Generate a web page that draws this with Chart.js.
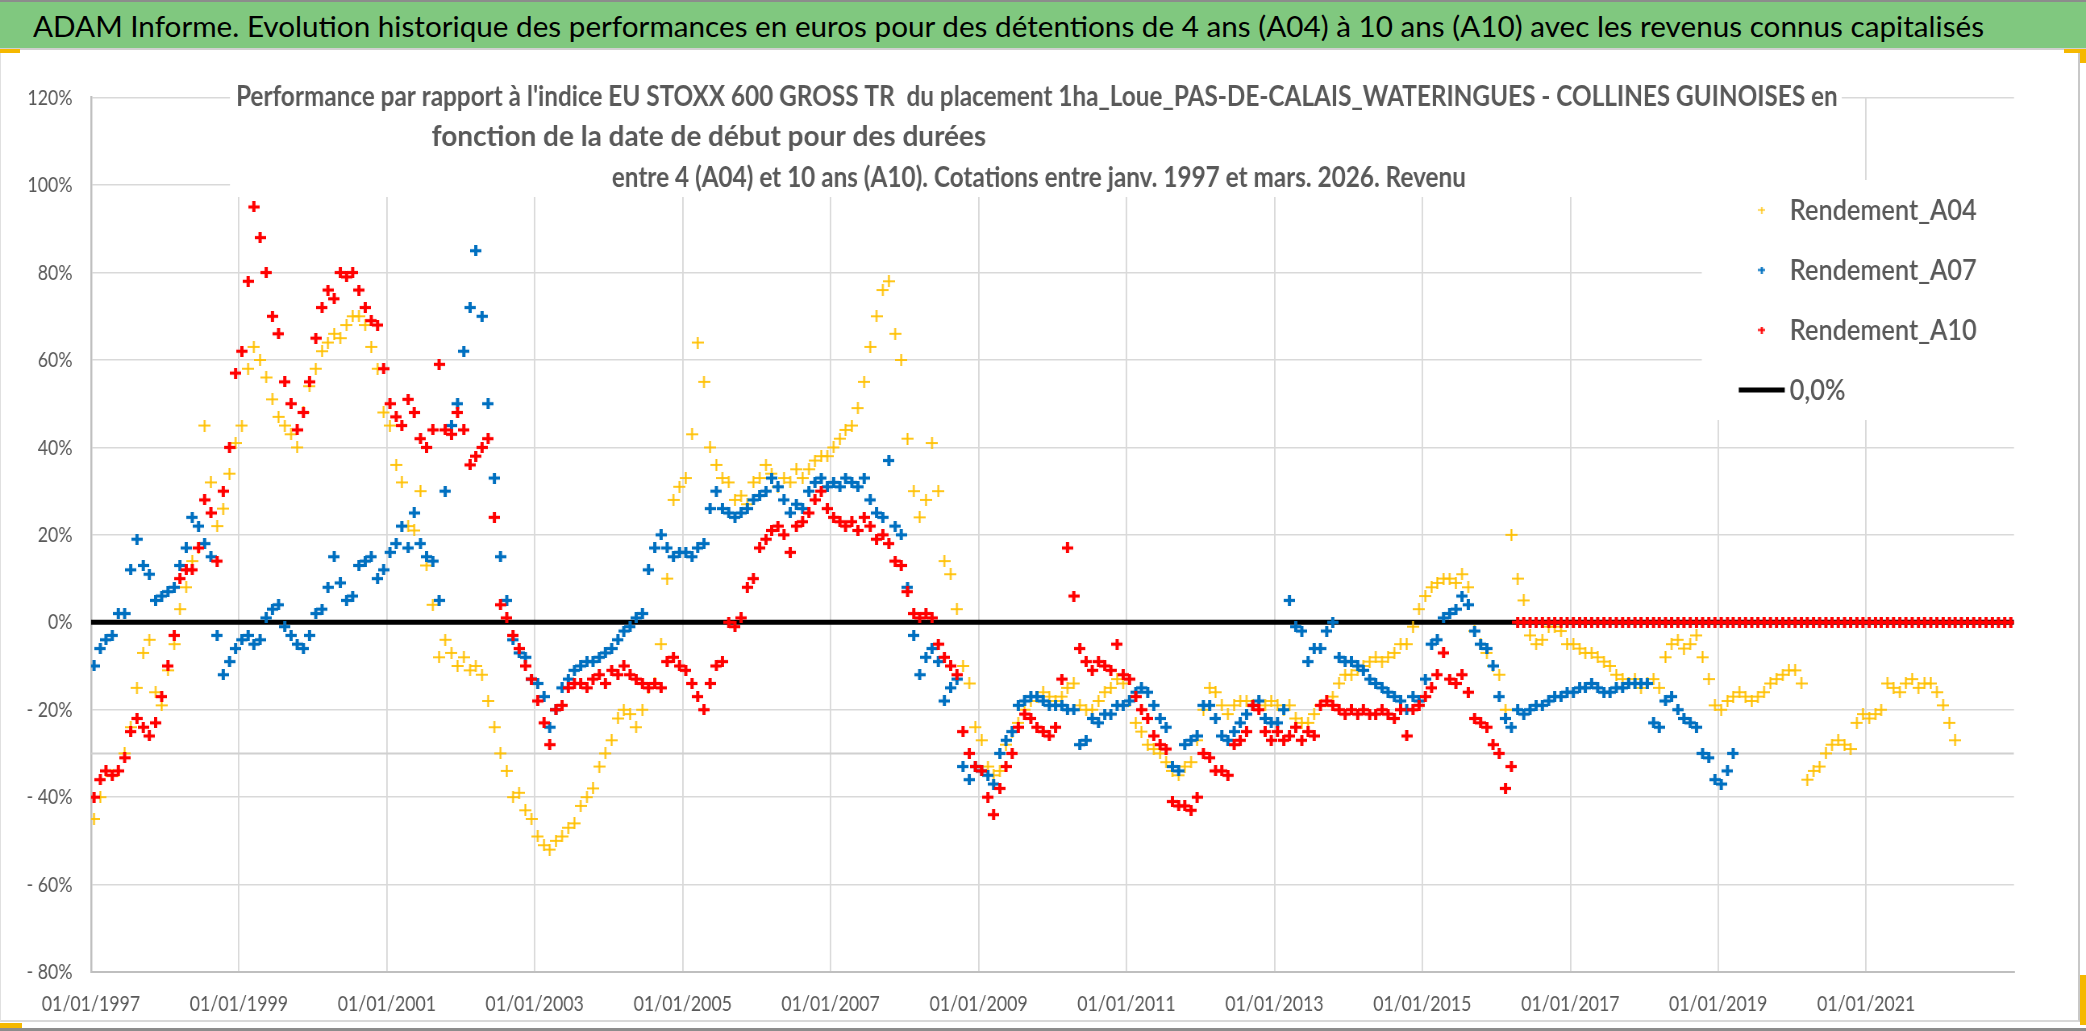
<!DOCTYPE html>
<html lang="fr">
<head>
<meta charset="utf-8">
<title>ADAM Informe - Rendements A04 A07 A10</title>
<script src="https://cdn.jsdelivr.net/npm/chart.js@4.4.1/dist/chart.umd.min.js"></script>
<style>
  html, body { margin: 0; padding: 0; background: #fff; overflow: hidden; }
  body { width: 2086px; height: 1031px; position: relative; font-family: Lato, 'Noto Sans', sans-serif; }
  #bandeau { position: absolute; left: 0; top: 0; width: 2086px; height: 50px; background: #80C87F;
             border-top: 2px solid #8c8c8c; border-bottom: 2px solid #d0d0d0; box-sizing: border-box; overflow: hidden; }
  #bandeau span { position: absolute; left: 33px; top: 7px; font-size: 28px; line-height: 34px; white-space: nowrap;
                  color: #000; transform-origin: 0 0; }
  #cadre { position: absolute; left: 0; top: 50px; width: 2080px; height: 972px; border-right: 2px solid #c8c8c8;
           border-bottom: 2px solid #d8d8d8; border-left: 1px solid #e0e0e0; box-sizing: border-box; }
  #basPage { position: absolute; left: 0; top: 1028px; width: 2086px; height: 3px; background: #8c8c8c; }
  .poignee { position: absolute; background: #F5B800; }
  #graphique { position: absolute; left: 0; top: 50px; }
</style>
</head>
<body>
<div id="bandeau"><span id="titreBandeau">ADAM Informe. Evolution historique des performances en euros pour des détentions de 4 ans (A04) à 10 ans (A10) avec les revenus connus capitalisés</span></div>
<div id="cadre"></div>
<div id="basPage"></div>
<div class="poignee" style="left:0;top:49px;width:20px;height:4px"></div>
<div class="poignee" style="left:2064px;top:49px;width:22px;height:4px"></div>
<div class="poignee" style="left:2080px;top:49px;width:6px;height:14px"></div>
<div class="poignee" style="left:2080px;top:975px;width:6px;height:50px"></div>
<div class="poignee" style="left:0;top:1023px;width:22px;height:5px"></div>
<canvas id="graphique" width="2587" height="972" style="width:2086px;height:972px"></canvas>
<script>
// compression horizontale du canevas pour imiter une police étroite (type Calibri)
const K = 1.24;

// axe des dates : une valeur par mois à partir de janvier 1997
const anneeDebut = 1997;
const anneesAxeX = [1997, 1999, 2001, 2003, 2005, 2007, 2009, 2011, 2013, 2015, 2017, 2019, 2021];
const graduationsY = [-80, -60, -40, -20, 0, 20, 40, 60, 80, 100, 120];

// Rendement en % (lecture du graphique, un point par mois)
const rendementA04 = [
  -45, -40, -34, -35, -34, -30, -24, -15, -7, -4, -16, -19,   // 1997
  -11, -5, 3, 8, 14, 17, 45, 32, 22, 26, 34, 41,              // 1998
  45, 58, 63, 60, 56, 51, 47, 45, 43, 40, 48, 54,             // 1999
  58, 62, 64, 66, 65, 68, 70, 70, 68, 63, 58, 48,             // 2000
  45, 36, 32, 22, 21, 30, 13, 4, -8, -4, -7, -10,             // 2001
  -8, -11, -10, -12, -18, -24, -30, -34, -40, -39, -43, -45,  // 2002
  -49, -51, -52, -50, -49, -47, -46, -42, -40, -38, -33, -30, // 2003
  -27, -22, -20, -21, -24, -20, -15, -14, -5, 10, 28, 31,     // 2004
  33, 43, 64, 55, 40, 36, 33, 32, 28, 29, 27, 32,             // 2005
  33, 36, 34, 31, 33, 32, 35, 33, 35, 37, 38, 38,             // 2006
  40, 42, 44, 45, 49, 55, 63, 70, 76, 78, 66, 60,             // 2007
  42, 30, 24, 28, 41, 30, 14, 11, 3, -10, -14, -24,           // 2008
  -27, -33, -35, -34, -28, -25, -23, -20, -18, -17, -16, -17, // 2009
  -18, -17, -15, -14, -19, -20, -20, -18, -16, -15, -13, -14, // 2010
  -18, -23, -25, -28, -29, -30, -32, -34, -35, -33, -32, -27, // 2011
  -20, -15, -16, -19, -21, -19, -18, -18, -19, -18, -19, -18, // 2012
  -19, -20, -19, -22, -23, -23, -21, -19, -18, -17, -14, -12, // 2013
  -12, -11, -10, -9, -8, -9, -8, -7, -5, -5, -1, 3,           // 2014
  6, 8, 9, 10, 10, 9, 11, 8, -2, -5, -7, -10,                 // 2015
  -12, -20, 20, 10, 5, -3, -5, -4, -1, -1, -2, -5,            // 2016
  -5, -6, -7, -7, -8, -9, -10, -12, -13, -14, -13, -15,       // 2017
  -14, -13, -15, -8, -5, -4, -6, -5, -3, -8, -13, -19,        // 2018
  -20, -18, -17, -16, -17, -18, -17, -16, -14, -13, -12, -11, // 2019
  -11, -14, -36, -34, -33, -30, -28, -27, -28, -29, -23, -21, // 2020
  -22, -21, -20, -14, -15, -16, -14, -13, -15, -14, -14, -16, // 2021
  -19, -23, -27                                               // 2022
];

const rendementA07 = [
  -10, -6, -4, -3, 2, 2, 12, 19, 13, 11, 5, 6,                // 1997
  7, 8, 13, 17, 24, 22, 18, 15, -3, -12, -9, -6,              // 1998
  -4, -3, -5, -4, 1, 3, 4, -1, -3, -5, -6, -3,                // 1999
  2, 3, 8, 15, 9, 5, 6, 13, 14, 15, 10, 12,                   // 2000
  16, 18, 22, 17, 25, 18, 15, 14, 5, 30, 45, 50,              // 2001
  62, 72, 85, 70, 50, 33, 15, 5, -4, -7, -8, -13,             // 2002
  -14, -17, -24, -20, -15, -13, -11, -10, -9, -9, -8, -7,     // 2003
  -6, -4, -2, -1, 1, 2, 12, 17, 20, 17, 15, 16,               // 2004
  16, 15, 17, 18, 26, 30, 26, 25, 24, 25, 26, 28,             // 2005
  29, 30, 33, 31, 28, 25, 27, 26, 30, 32, 33, 31,             // 2006
  32, 31, 33, 32, 31, 33, 28, 25, 24, 37, 22, 20,             // 2007
  8, -3, -12, -8, -6, -9, -18, -15, -13, -33, -36, -33,       // 2008
  -34, -35, -37, -30, -27, -25, -19, -18, -17, -17, -18, -19, // 2009
  -19, -19, -20, -20, -28, -27, -22, -23, -21, -21, -19, -19, // 2010
  -18, -16, -15, -16, -19, -22, -24, -33, -34, -28, -27, -26, // 2011
  -19, -19, -22, -26, -27, -25, -23, -21, -19, -18, -22, -23, // 2012
  -23, -20, 5, -1, -2, -9, -6, -6, -2, 0, -8, -9,             // 2013
  -9, -10, -11, -13, -14, -15, -16, -17, -18, -20, -17, -18,  // 2014
  -13, -5, -4, 1, 2, 3, 6, 4, -2, -5, -6, -10,                // 2015
  -17, -22, -24, -20, -21, -20, -19, -19, -18, -17, -17, -16, // 2016
  -16, -15, -15, -14, -15, -16, -16, -15, -15, -14, -14, -14, // 2017
  -14, -23, -24, -18, -17, -20, -22, -23, -24, -30, -31, -36, // 2018
  -37, -34, -30                                               // 2019
];

const rendementA10 = [
  -40, -36, -34, -35, -34, -31, -25, -22, -24, -26, -23, -17, // 1997
  -10, -3, 10, 12, 12, 17, 28, 25, 14, 30, 40, 57,            // 1998
  62, 78, 95, 88, 80, 70, 66, 55, 50, 44, 48, 55,             // 1999
  65, 72, 76, 74, 80, 79, 80, 76, 72, 69, 68, 58,             // 2000
  50, 47, 45, 51, 48, 42, 40, 44, 59, 44, 43, 48,             // 2001
  44, 36, 38, 40, 42, 24, 4, 1, -3, -6, -10, -13,             // 2002
  -18, -23, -28, -20, -19, -15, -14, -14, -15, -13, -12, -14, // 2003
  -11, -12, -10, -12, -13, -14, -15, -14, -15, -9, -8, -10,   // 2004
  -11, -14, -17, -20, -14, -10, -9, 0, -1, 1, 8, 10,          // 2005
  17, 19, 21, 22, 20, 16, 22, 23, 25, 28, 30, 26,             // 2006
  24, 23, 22, 23, 21, 24, 22, 19, 20, 18, 14, 13,             // 2007
  7, 2, 1, 2, 1, -5, -8, -10, -12, -25, -30, -33,             // 2008
  -34, -40, -44, -38, -33, -30, -24, -21, -22, -24, -25, -26, // 2009
  -24, -13, 17, 6, -6, -9, -11, -9, -10, -11, -5, -12,        // 2010
  -13, -17, -20, -22, -26, -28, -29, -41, -42, -42, -43, -40, // 2011
  -30, -31, -34, -34, -35, -28, -27, -25, -19, -20, -25, -27, // 2012
  -25, -27, -26, -24, -27, -25, -26, -19, -18, -19, -20, -21, // 2013
  -20, -21, -20, -21, -21, -20, -21, -22, -20, -26, -20, -19, // 2014
  -17, -15, -12, -7, -13, -14, -12, -16, -22, -23, -24, -28,  // 2015
  -30, -38, -33, 0, 0, 0, 0, 0, 0, 0, 0, 0,                   // 2016
  0, 0, 0, 0, 0, 0, 0, 0, 0, 0, 0, 0,                         // 2017
  0, 0, 0, 0, 0, 0, 0, 0, 0, 0, 0, 0,                         // 2018
  0, 0, 0, 0, 0, 0, 0, 0, 0, 0, 0, 0,                         // 2019
  0, 0, 0, 0, 0, 0, 0, 0, 0, 0, 0, 0,                         // 2020
  0, 0, 0, 0, 0, 0, 0, 0, 0, 0, 0, 0,                         // 2021
  0, 0, 0, 0, 0, 0, 0, 0, 0, 0, 0, 0                          // 2022
];

// lignes horizontales (0,0 % et repère gris à -30 %)
const ligneZero = [0, 0];
const ligneGrise = [-30, -30];
const bornesDates = [Date.UTC(1997, 0, 1), Date.UTC(2023, 0, 1)];

const titreGraphique = [
  "Performance par rapport à l'indice EU STOXX 600 GROSS TR  du placement 1ha_Loue_PAS-DE-CALAIS_WATERINGUES - COLLINES GUINOISES en",
  "fonction de la date de début pour des durées",
  "entre 4 (A04) et 10 ans (A10). Cotations entre janv. 1997 et mars. 2026. Revenu"
];

function mensuel(valeurs) {
  return valeurs.map((v, i) => ({ x: Date.UTC(anneeDebut, i, 16), y: v }));
}
function horizontale(valeurs) {
  return valeurs.map((v, i) => ({ x: bornesDates[i], y: v }));
}

// croix dessinée dans un petit canevas, élargie de K pour rester carrée à l'écran
function croix(couleur, taille, epaisseur) {
  const c = document.createElement('canvas');
  c.width = Math.round(taille * K);
  c.height = taille;
  const g = c.getContext('2d');
  g.fillStyle = couleur;
  g.fillRect(0, (taille - epaisseur) / 2, c.width, epaisseur);
  g.fillRect((c.width - epaisseur * K) / 2, 0, epaisseur * K, taille);
  return c;
}

// texte centré sur cx, étiré horizontalement d'un facteur donné
function texteCentre(ctx, txt, cx, y, facteur) {
  ctx.save();
  ctx.translate(cx * K, y);
  ctx.scale(facteur, 1);
  ctx.textAlign = 'center';
  ctx.textBaseline = 'alphabetic';
  ctx.fillText(txt, 0, 0);
  ctx.restore();
}

function texteAjuste(ctx, txt, x, y, largeur) {
  const w = ctx.measureText(txt).width;
  ctx.save();
  ctx.translate(x * K, y);
  ctx.scale(largeur * K / w, 1);
  ctx.textAlign = 'left';
  ctx.textBaseline = 'alphabetic';
  ctx.fillText(txt, 0, 0);
  ctx.restore();
}

// titre et légende posés sur la zone de tracé, comme dans Excel
const habillage = {
  id: 'habillage',
  beforeDatasetsDraw(chart) {
    const ctx = chart.ctx;
    ctx.save();
    ctx.fillStyle = '#ffffff';
    ctx.fillRect(230 * K, 22, (1842 - 230) * K, 125);
    ctx.fillRect(1702 * K, 130, (2030 - 1702) * K, 240);

    ctx.fillStyle = '#595959';
    ctx.font = 'bold 28px Lato';
    const f = 1602 * K / ctx.measureText(titreGraphique[0]).width;
    texteCentre(ctx, titreGraphique[0], 1037, 56, f);
    texteCentre(ctx, titreGraphique[1], 709, 96, f * 1.15);
    texteCentre(ctx, titreGraphique[2], 1039, 137, f);

    ctx.font = '600 28px Lato';
    const ref = ctx.measureText('Rendement_A04').width;
    const echelle = 187 / ref;
    let y = 160;
    chart.data.datasets.filter(d => d.legende).forEach(d => {
      if (d.showLine) {
        ctx.fillStyle = d.borderColor;
        ctx.fillRect(1739 * K, y - 2.5, 46 * K, 5);
      } else {
        const m = d.marqueLegende;
        ctx.drawImage(m, 1762 * K - m.width / 2, y - m.height / 2);
      }
      ctx.fillStyle = '#595959';
      const w = ctx.measureText(d.label).width;
      texteAjuste(ctx, d.label, 1790, y + 10, w * echelle);
      y += 60;
    });
    ctx.restore();
  }
};

document.fonts.ready.then(() => {
  const span = document.getElementById('titreBandeau');
  const w = span.getBoundingClientRect().width;
  span.style.transform = 'scaleX(' + (1951 / w) + ')';

  const jaune = '#FFC000', bleu = '#0070C0', rouge = '#FF0000';
  const ctx = document.getElementById('graphique').getContext('2d');
  new Chart(ctx, {
    type: 'scatter',
    data: {
      datasets: [
        { label: 'Rendement_A04', data: mensuel(rendementA04), legende: true, order: 3,
          pointStyle: croix(jaune, 12, 1.8), marqueLegende: croix(jaune, 7, 1.2), pointRadius: 5 },
        { label: 'Rendement_A07', data: mensuel(rendementA07), legende: true, order: 2,
          pointStyle: croix(bleu, 11, 3.2), marqueLegende: croix(bleu, 7, 2), pointRadius: 5 },
        { label: 'Rendement_A10', data: mensuel(rendementA10), legende: true, order: 1,
          pointStyle: croix(rouge, 11, 3.2), marqueLegende: croix(rouge, 7, 2), pointRadius: 5 },
        { label: '0,0%', data: horizontale(ligneZero), legende: true, order: 5, showLine: true,
          borderColor: '#000000', borderWidth: 5, pointRadius: 0 },
        { label: 'repère', data: horizontale(ligneGrise), legende: false, order: 6, showLine: true,
          borderColor: '#D0D0D0', borderWidth: 2, pointRadius: 0 }
      ]
    },
    options: {
      responsive: false,
      animation: false,
      events: [],
      layout: { padding: { top: 47.7, right: (2086 - 2014) * K, bottom: 0, left: 0 } },
      plugins: { legend: { display: false }, title: { display: false }, tooltip: { enabled: false } },
      scales: {
        x: {
          type: 'linear',
          min: bornesDates[0],
          max: bornesDates[1],
          afterBuildTicks: s => { s.ticks = anneesAxeX.map(a => ({ value: Date.UTC(a, 0, 1) })); },
          afterFit: s => { s.height = 972 - 922; },
          grid: { color: '#D9D9D9', lineWidth: 1.5 * K, drawTicks: false },
          border: { color: '#BFBFBF', width: 2 },
          ticks: {
            autoSkip: false, maxRotation: 0, padding: 19, color: '#595959',
            font: { family: 'Lato', size: 22 },
            callback: v => '01/01/' + new Date(v).getUTCFullYear()
          }
        },
        y: {
          min: -80,
          max: 120,
          afterBuildTicks: s => { s.ticks = graduationsY.map(v => ({ value: v })); },
          afterFit: s => { s.width = 91 * K; },
          grid: { color: '#D9D9D9', lineWidth: 1.5, drawTicks: false },
          border: { color: '#BFBFBF', width: 2 * K },
          ticks: {
            padding: 18.5 * K, color: '#595959',
            font: { family: 'Lato', size: 22 },
            callback: v => (v < 0 ? '- ' + Math.abs(v) : v) + '%'
          }
        }
      }
    },
    plugins: [habillage]
  });
});
</script>
</body>
</html>
